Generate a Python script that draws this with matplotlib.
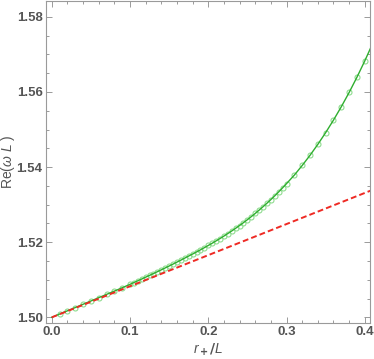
import matplotlib
matplotlib.use("Agg")
import matplotlib.pyplot as plt
from matplotlib.ticker import MultipleLocator

# numerical data (green)
r_plus = [0.00, 0.01, 0.02, 0.03, 0.04, 0.05, 0.06, 0.07, 0.08, 0.09,
          0.100, 0.105, 0.110, 0.115, 0.120, 0.125, 0.130, 0.135, 0.140, 0.145,
          0.150, 0.155, 0.160, 0.165, 0.170, 0.175, 0.180, 0.185, 0.190, 0.195,
          0.200, 0.205, 0.210, 0.215, 0.220, 0.225, 0.230, 0.235, 0.240, 0.245,
          0.250, 0.255, 0.260, 0.265, 0.270, 0.275, 0.280, 0.285, 0.290, 0.295,
          0.300, 0.31, 0.32, 0.33, 0.34, 0.35, 0.36, 0.37, 0.38, 0.39, 0.40, 0.41]
re_omega = [1.50000, 1.50087, 1.50174, 1.50260, 1.50348, 1.50435, 1.50523, 1.50611, 1.50698, 1.50788,
            1.50879, 1.50926, 1.50974, 1.51021, 1.51070, 1.51118, 1.51166, 1.51216, 1.51265, 1.51316,
            1.51367, 1.51418, 1.51471, 1.51523, 1.51578, 1.51633, 1.51686, 1.51741, 1.51797, 1.51855,
            1.51914, 1.51973, 1.52036, 1.52098, 1.52164, 1.52231, 1.52300, 1.52372, 1.52445, 1.52522,
            1.52600, 1.52682, 1.52767, 1.52855, 1.52946, 1.53039, 1.53136, 1.53237, 1.53341, 1.53449,
            1.53560, 1.53788, 1.54043, 1.54314, 1.54606, 1.54918, 1.55252, 1.55608, 1.55988, 1.56395,
            1.56828, 1.57290]

# small r_+ approximation (red dashed)
approx_x = [0.0, 0.41]
approx_y = [1.5, 1.53395]

plt.rcParams['font.family'] = 'Liberation Sans'
plt.rcParams['mathtext.fontset'] = 'custom'
plt.rcParams['mathtext.it'] = 'Liberation Sans:italic'
plt.rcParams['mathtext.rm'] = 'Liberation Sans'

fig = plt.figure(figsize=(3.74, 3.59), dpi=100)
ax = fig.add_axes([0.123, 0.1003, 0.866, 0.8967])

ax.plot(r_plus[1:], re_omega[1:], 'o', ms=3.6, mfc='none', mec='#90dc90', mew=0.8)
ax.plot(r_plus, re_omega, '-', color='#2fae2f', lw=1.0)
ax.plot(approx_x, approx_y, '--', color='#ee2a24', lw=1.4, dashes=(3, 1.6))

ax.set_xlim(-0.0073, 0.4065)
ax.set_ylim(1.4985, 1.5842)

ax.xaxis.set_major_locator(MultipleLocator(0.1))
ax.xaxis.set_minor_locator(MultipleLocator(0.02))
ax.yaxis.set_major_locator(MultipleLocator(0.02))
ax.yaxis.set_minor_locator(MultipleLocator(0.005))
ax.xaxis.set_major_formatter(lambda v, p: f"{v:.1f}")
ax.yaxis.set_major_formatter(lambda v, p: f"{v:.2f}")

ax.tick_params(which='both', direction='in', top=True, right=True, color='#9a9a9a', width=0.7)
ax.tick_params(which='major', length=4, labelsize=9.5, labelcolor='#555555', pad=2.5)
ax.tick_params(which='minor', length=2.3)
for lab in ax.get_xticklabels() + ax.get_yticklabels():
    lab.set_fontweight('bold')
for s in ax.spines.values():
    s.set_color('#9a9a9a')
    s.set_linewidth(0.8)

ax.set_xlabel(r'$\mathbf{\mathit{r}_+/\mathit{L}}$', fontsize=10, color='#555555', labelpad=2)
ax.set_ylabel(r'Re($\omega\ L$ )', fontsize=10, color='#555555')
ax.yaxis.set_label_coords(-0.09, 0.5)

fig.savefig('out.png', dpi=100)
